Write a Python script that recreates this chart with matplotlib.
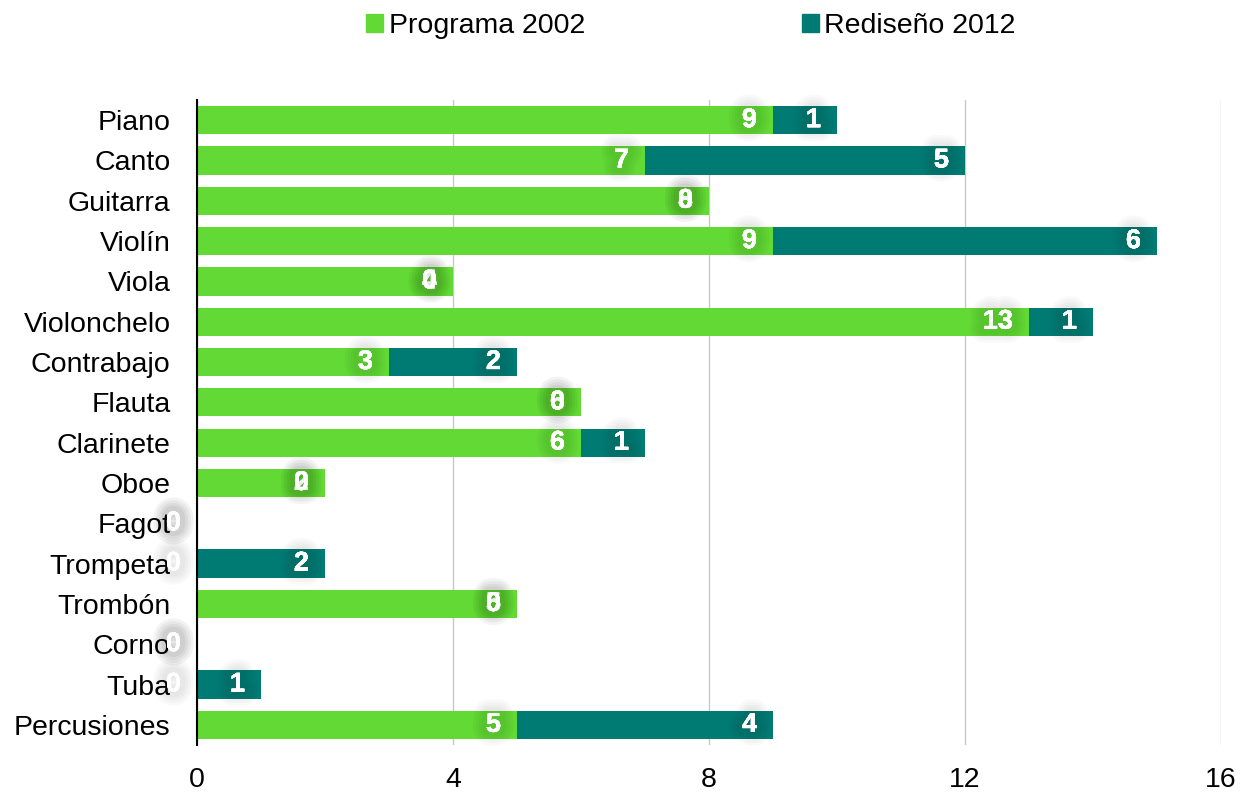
import matplotlib.pyplot as plt
import matplotlib.patheffects as pe
from matplotlib.patches import Patch

# Instrumentos y número de programas por plan
instrumentos = ["Piano", "Canto", "Guitarra", "Violín", "Viola", "Violonchelo",
                "Contrabajo", "Flauta", "Clarinete", "Oboe", "Fagot", "Trompeta",
                "Trombón", "Corno", "Tuba", "Percusiones"]
programa_2002 = [9, 7, 8, 9, 4, 13, 3, 6, 6, 2, 0, 0, 5, 0, 0, 5]
rediseno_2012 = [1, 5, 0, 6, 0, 1, 2, 0, 1, 0, 0, 2, 0, 0, 1, 4]
xticks = [0, 4, 8, 12, 16]

verde = "#62d935"
teal = "#007b74"

plt.rcParams['font.family'] = ['Liberation Sans', 'DejaVu Sans']

fig = plt.figure(figsize=(12.43, 7.94), dpi=100)
ax = fig.add_axes([197/1243, 1-745/794, 1024/1243, 645/794])

y = list(range(len(instrumentos)))
ax.barh(y, programa_2002, height=0.7, color=verde, zorder=2)
ax.barh(y, rediseno_2012, left=programa_2002, height=0.7, color=teal, zorder=2)

ax.set_ylim(len(instrumentos)-0.5, -0.5)
ax.set_xlim(0, 16)
ax.set_yticks(y)
ax.set_yticklabels(instrumentos, fontsize=20.5)
ax.set_xticks(xticks)
ax.set_xticklabels([str(t) for t in xticks], fontsize=20.5)
ax.tick_params(axis='y', length=0, pad=19)
ax.tick_params(axis='x', length=0, pad=16)

ax.grid(axis='x', color='#c8c8c8', linewidth=1, zorder=0)
for s in ['top', 'right', 'bottom']:
    ax.spines[s].set_visible(False)
ax.spines['left'].set_color('black')
ax.spines['left'].set_linewidth(1.5)
ax.spines['left'].set_zorder(3)

# etiquetas blancas con sombra difusa al final de cada tramo
sombra = [pe.withStroke(linewidth=w, foreground=(0, 0, 0, 0.022))
          for w in (20, 16, 12, 8)] + [pe.Normal()]
for i in y:
    fin1 = programa_2002[i]
    fin2 = programa_2002[i] + rediseno_2012[i]
    for valor, fin in [(programa_2002[i], fin1), (rediseno_2012[i], fin2)]:
        ax.annotate(str(valor), xy=(fin, i), xytext=(-11.5, 0),
                    textcoords='offset points', ha='right', va='center',
                    color='white', fontsize=19.5, fontweight='bold',
                    path_effects=sombra, zorder=4, annotation_clip=False)

handles = [Patch(color=verde, label="Programa 2002"),
           Patch(color=teal, label="Rediseño 2012")]
fig.legend(handles=handles, loc='center', bbox_to_anchor=(691/1243, 1-26/794),
           ncol=2, frameon=False, fontsize=20.5, handlelength=0.6, handleheight=0.6,
           handletextpad=0.2, columnspacing=7.6)

fig.savefig("out.png", dpi=100)
